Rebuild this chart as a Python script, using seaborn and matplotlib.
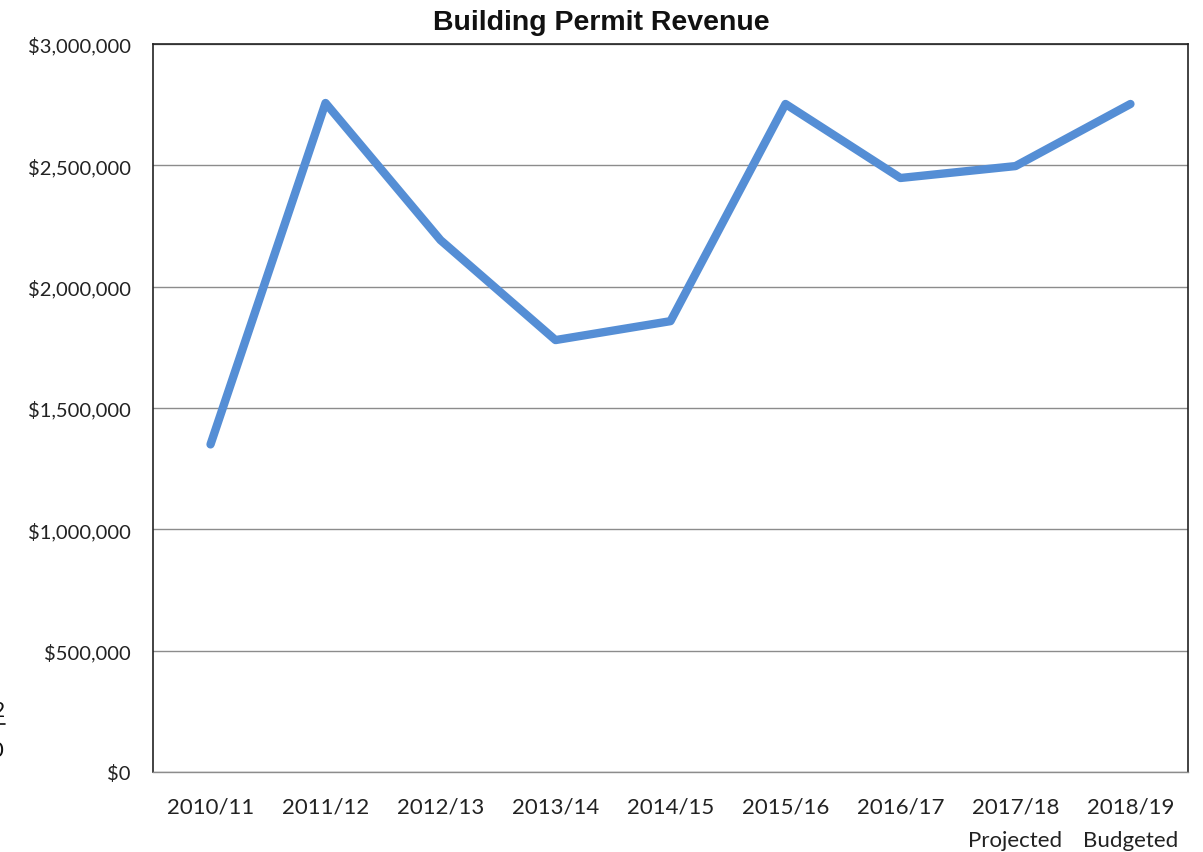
import matplotlib

matplotlib.use("Agg")
import matplotlib.pyplot as plt
from matplotlib.ticker import FuncFormatter, MultipleLocator
import pandas as pd
import seaborn as sns

years = ["2010/11", "2011/12", "2012/13", "2013/14", "2014/15",
         "2015/16", "2016/17", "2017/18", "2018/19"]
tick_labels = ["2010/11", "2011/12", "2012/13", "2013/14", "2014/15",
               "2015/16", "2016/17", "2017/18\nProjected", "2018/19\nBudgeted"]
revenue = [1350000, 2757000, 2192000, 1780000, 1858000,
           2753000, 2448000, 2497000, 2753000]


def main() -> None:
    sns.set_theme(style="white")
    plt.rcParams["font.family"] = ["Lato", "DejaVu Sans"]

    df = pd.DataFrame({"year": years, "revenue": revenue})
    df["pos"] = range(len(df))

    fig = plt.figure(figsize=(12.03, 8.53), dpi=100)
    ax = fig.add_axes([0.1272, 0.0938, 0.8603, 0.8534])

    sns.lineplot(data=df, x="pos", y="revenue", ax=ax, color="#558ED5",
                 linewidth=6, solid_capstyle="round", solid_joinstyle="round",
                 zorder=3)

    ax.set_xlim(-0.5, len(years) - 0.5)
    ax.set_ylim(0, 3000000)
    ax.yaxis.set_major_locator(MultipleLocator(500000))
    ax.yaxis.set_major_formatter(FuncFormatter(lambda v, _: f"${v:,.0f}"))
    ax.grid(axis="y", color="#8c8c8c", linewidth=1.0, zorder=0)
    ax.grid(axis="x", visible=False)

    ax.set_xticks(range(len(years)))
    ax.set_xticklabels(tick_labels, fontsize=16, color="#222222", linespacing=1.8)
    ax.set_xticks([i - 0.5 for i in range(len(years) + 1)], minor=True)
    ax.tick_params(axis="x", which="major", length=0, pad=18)
    ax.tick_params(axis="x", which="minor", length=6, direction="in",
                   color="#8c8c8c", width=1)
    ax.tick_params(axis="y", length=0, pad=16, labelsize=14.5, labelcolor="#222222")

    for side in ["left", "top", "right"]:
        ax.spines[side].set_color("#222222")
        ax.spines[side].set_linewidth(1.2)
    ax.spines["bottom"].set_color("#8c8c8c")
    ax.spines["bottom"].set_linewidth(1.0)

    ax.set_xlabel("")
    ax.set_ylabel("")
    fig.text(0.5, 1 - 23 / 853, "Building Permit Revenue", fontsize=20.5,
             fontweight="bold", ha="center", va="center", color="#111111",
             family=["Liberation Sans Narrow", "Liberation Sans", "DejaVu Sans"])

    # clipped text fragments at the left edge of the source image
    fig.text(-0.006, 0.166, "2", fontsize=15, color="#111111", ha="left", va="center")
    fig.add_artist(plt.Line2D([0.0, 0.004], [0.150, 0.150], color="#111111", linewidth=1.2))
    fig.text(-0.008, 0.120, "0", fontsize=16, color="#111111", ha="left", va="center")

    fig.savefig("out.png", dpi=100)
    plt.close(fig)


if __name__ == "__main__":
    main()
